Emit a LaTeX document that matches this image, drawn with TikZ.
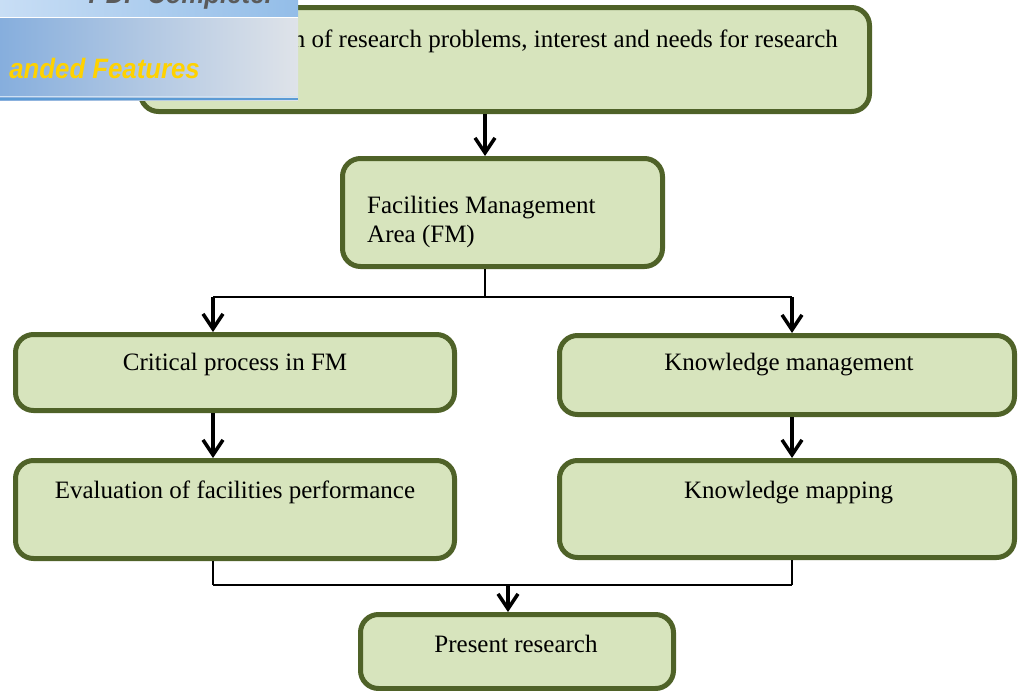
\documentclass[tikz,border=0pt]{standalone}
\usepackage{fontspec}
\setmainfont{Liberation Serif}
\newfontfamily\bannerfont[FakeStretch=0.92]{Liberation Sans}
\usetikzlibrary{arrows.meta}

\definecolor{boxfill}{HTML}{D7E4BD}
\definecolor{boxedge}{HTML}{4F6228}
\definecolor{bandleft}{HTML}{86AEDD}
\definecolor{bandright}{HTML}{DFE3E9}
\definecolor{stripleft}{HTML}{C8DEF5}
\definecolor{stripright}{HTML}{93BDE8}
\definecolor{bandline}{HTML}{5B9BD5}
\definecolor{featgold}{HTML}{FFD200}
\definecolor{titlegrey}{HTML}{5A5A5A}

\begin{document}
\begin{tikzpicture}[x=1pt,y=-1pt,
  box/.style={draw=boxedge, fill=boxfill, line width=5pt, rounded corners=18pt, inner sep=0pt},
  lbl/.style={font=\fontsize{25}{29}\selectfont, inner sep=0pt},
  link/.style={line width=2pt, black},
  arr/.style={line width=3.5pt, black, -{Straight Barb[length=15pt,width=20pt,line width=3.5pt]}},
  bannertext/.style={font=\bannerfont\bfseries\itshape\fontsize{28}{32}\selectfont, inner sep=0pt}
]
\useasboundingbox (0,0) rectangle (1018,691);

% boxes
\node[box, minimum width=729pt, minimum height=104pt] (top)  at (505,59.5) {};
\node[box, minimum width=320pt, minimum height=108pt] (fm)   at (502.5,212.5) {};
\node[box, minimum width=439pt, minimum height=76pt]  (crit) at (235,372.5) {};
\node[box, minimum width=439pt, minimum height=98pt]  (eval) at (235,509.5) {};
\node[box, minimum width=455pt, minimum height=79pt]  (km)   at (787,375) {};
\node[box, minimum width=455pt, minimum height=97pt]  (kmap) at (787,509) {};
\node[box, minimum width=313pt, minimum height=74pt]  (pres) at (517,651.5) {};

% box texts
\node[lbl, anchor=base east] (toptext) at (838,47) {n of research problems, interest and needs for research};
\node[lbl, anchor=base west] (fmtext1) at (367,213) {Facilities Management};
\node[lbl, anchor=base west] (fmtext2) at (367,242) {Area (FM)};
\node[lbl, anchor=base] (crittext) at (235,370) {Critical process in FM};
\node[lbl, anchor=base] (evaltext) at (235,498) {Evaluation of facilities performance};
\node[lbl, anchor=base] (kmtext)   at (789,370) {Knowledge management};
\node[lbl, anchor=base] (kmaptext) at (788.5,498) {Knowledge mapping};
\node[lbl, anchor=base] (prestext) at (516,652) {Present research};

% connector columns and junction rows
\coordinate (midcol)   at (485,0);
\coordinate (leftcol)  at (213,0);
\coordinate (rightcol) at (792,0);
\coordinate (lowcol)   at (508,0);
\coordinate (splitrow) at (0,297);
\coordinate (joinrow)  at (0,585);

% connectors
\draw[arr] (top.south -| midcol) -- (fm.north -| midcol);
\draw[link] (fm.south -| midcol) -- (splitrow -| midcol);
\draw[link] (splitrow -| leftcol) -- (splitrow -| rightcol);
\draw[arr] (splitrow -| leftcol) -- (crit.north -| leftcol);
\draw[arr] (splitrow -| rightcol) -- (km.north -| rightcol);
\draw[arr] (crit.south -| leftcol) -- (eval.north -| leftcol);
\draw[arr] (km.south -| rightcol) -- (kmap.north -| rightcol);
\draw[link] (eval.south -| leftcol) -- (joinrow -| leftcol);
\draw[link] (kmap.south -| rightcol) -- (joinrow -| rightcol);
\draw[link] (joinrow -| leftcol) -- (joinrow -| rightcol);
\draw[arr] (joinrow -| lowcol) -- (pres.north -| lowcol);

% banner in the upper left corner
\begin{scope}
  \clip (0,0) rectangle (298,100);
  \shade[left color=stripleft, right color=stripright] (0,0) rectangle (298,17);
  \shade[left color=bandleft, right color=bandright] (0,17) rectangle (298,100);
  \draw[white, line width=1.2pt] (0,17.5) -- (298,17.5);
  \draw[white!70!bandline, line width=1pt] (0,96.5) -- (298,96.5);
  \fill[bandline] (0,97.5) rectangle (298,100);
  \node[bannertext, text=titlegrey, anchor=base east] (bannertitle) at (272,3) {PDF Complete.};
  \node[bannertext, text=featgold, anchor=base east] (bannerfeat) at (200,78) {anded Features};
\end{scope}
\end{tikzpicture}
\end{document}
